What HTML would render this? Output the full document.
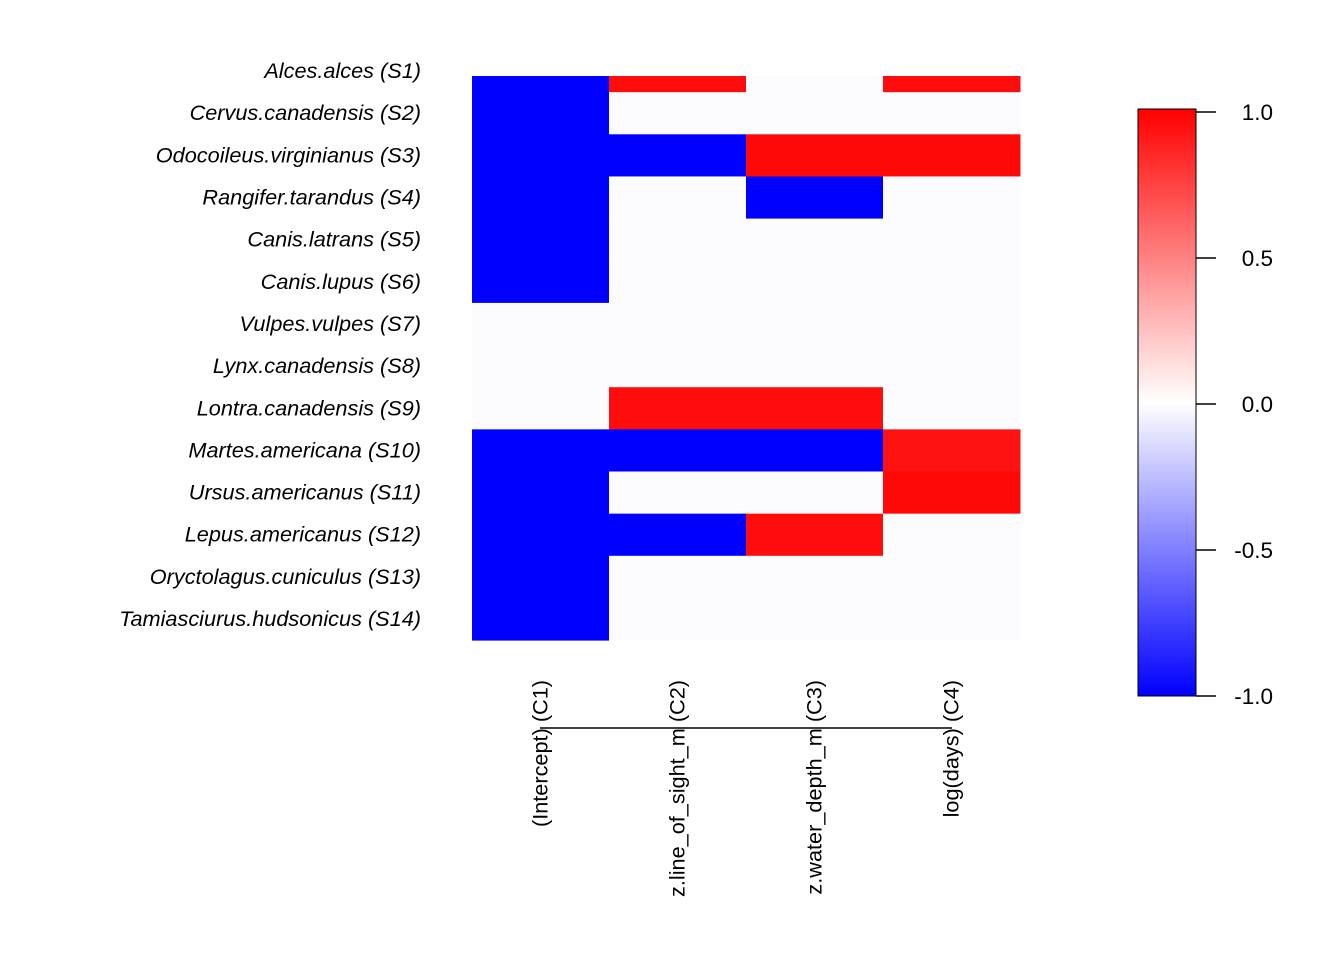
<!DOCTYPE html>
<html><head><meta charset="utf-8"><style>
body{margin:0;background:#fff}
svg{display:block;font-family:"Liberation Sans",Arial,sans-serif}
</style></head><body>
<svg id="chart" width="1344" height="960">
<defs>
<linearGradient id="cbg" x1="0" y1="1" x2="0" y2="0">
<stop offset="0" stop-color="#0000ff"/><stop offset="0.5" stop-color="#ffffff"/><stop offset="1" stop-color="#ff0000"/>
</linearGradient>
<clipPath id="plotclip"><rect x="0" y="76" width="1344" height="884"/></clipPath>
</defs>
<g id="cells" clip-path="url(#plotclip)"></g>
<g id="rowlabels"></g>
<g id="collabels"></g>
<line x1="540" y1="728" x2="952" y2="728" stroke="#000" stroke-width="1.5"/>
<rect x="1138" y="109" width="58" height="587" fill="url(#cbg)" stroke="#000" stroke-width="1"/>
<g id="cbticks"></g>
</svg>
<script>
const rows = ["Alces.alces (S1)","Cervus.canadensis (S2)","Odocoileus.virginianus (S3)","Rangifer.tarandus (S4)","Canis.latrans (S5)","Canis.lupus (S6)","Vulpes.vulpes (S7)","Lynx.canadensis (S8)","Lontra.canadensis (S9)","Martes.americana (S10)","Ursus.americanus (S11)","Lepus.americanus (S12)","Oryctolagus.cuniculus (S13)","Tamiasciurus.hudsonicus (S14)"];
const cols = ["(Intercept) (C1)","z.line_of_sight_m (C2)","z.water_depth_m (C3)","log(days) (C4)"];
const values = [
 [-1,0.95,-0.01,0.95],
 [-1,-0.01,-0.01,-0.01],
 [-1,-1,0.97,0.97],
 [-1,-0.01,-1,-0.01],
 [-1,-0.01,-0.01,-0.01],
 [-1,-0.01,-0.01,-0.01],
 [-0.01,-0.01,-0.01,-0.01],
 [-0.01,-0.01,-0.01,-0.01],
 [-0.01,0.95,0.95,-0.01],
 [-1,-1,-1,0.93],
 [-1,-0.01,-0.01,0.97],
 [-1,-1,0.95,-0.01],
 [-1,-0.01,-0.01,-0.01],
 [-1,-0.01,-0.01,-0.01]
];
const cbTicks = [1.0,0.5,0.0,-0.5,-1.0];
const cbLabels = ["1.0","0.5","0.0","-0.5","-1.0"];

const NS="http://www.w3.org/2000/svg";
const x0=472, cw=137, y0=50, rh=42.15;
const xPos=j=>x0+j*cw, yPos=i=>y0+i*rh;
const cbY=v=>404-v*292;
function color(v){
  let r,g,b;
  if(v>=0){r=255;g=b=Math.round(255*(1-v));}
  else{b=255;r=g=Math.round(255*(1+v));}
  return `rgb(${r},${g},${b})`;
}
const cells=document.getElementById('cells');
values.forEach((row,i)=>row.forEach((v,j)=>{
  const r=document.createElementNS(NS,'rect');
  r.setAttribute('x',xPos(j));r.setAttribute('y',yPos(i));
  r.setAttribute('width',cw+0.5);r.setAttribute('height',rh+0.5);
  r.setAttribute('fill',color(v));
  
  
  cells.appendChild(r);
}));
const rl=document.getElementById('rowlabels');
rows.forEach((t,i)=>{
  const e=document.createElementNS(NS,'text');
  e.setAttribute('x',421);e.setAttribute('y',yPos(i)+rh/2+7);
  e.setAttribute('text-anchor','end');e.setAttribute('font-size','21.7');
  e.setAttribute('font-style','italic');
  
  
  e.textContent=t;rl.appendChild(e);
});
const cl=document.getElementById('collabels');
cols.forEach((t,j)=>{
  const cx=xPos(j)+cw/2+7;
  const e=document.createElementNS(NS,'text');
  e.setAttribute('transform',`translate(${cx},680) rotate(-90)`);
  e.setAttribute('text-anchor','end');e.setAttribute('font-size','21.7');
  
  
  e.textContent=t;cl.appendChild(e);
});
const ct=document.getElementById('cbticks');
cbTicks.forEach((v,k)=>{
  const y=cbY(v);
  const l=document.createElementNS(NS,'line');
  l.setAttribute('x1',1196);l.setAttribute('x2',1216);l.setAttribute('y1',y);l.setAttribute('y2',y);
  l.setAttribute('stroke','#000');l.setAttribute('stroke-width','1.5');
  
  
  ct.appendChild(l);
  const e=document.createElementNS(NS,'text');
  e.setAttribute('x',1273);e.setAttribute('y',y+8);e.setAttribute('text-anchor','end');
  e.setAttribute('font-size','22.5');
  
  
  e.textContent=cbLabels[k];ct.appendChild(e);
});
</script>
</body></html>
